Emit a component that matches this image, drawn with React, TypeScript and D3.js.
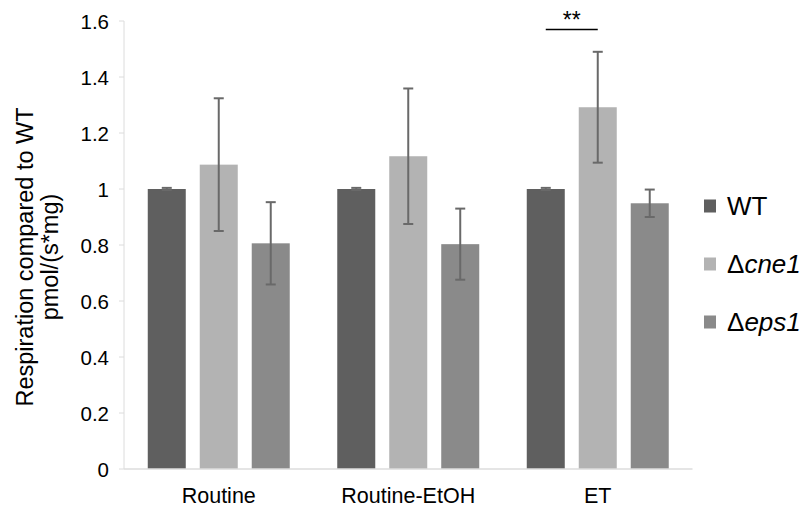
import React from "react";
import * as d3 from "d3";

const categories = ["Routine", "Routine-EtOH", "ET"];
const seriesKeys = ["WT", "cne1", "eps1"];
const seriesLabels = [
  { prefix: "", name: "WT", italic: false },
  { prefix: "Δ", name: "cne1", italic: true },
  { prefix: "Δ", name: "eps1", italic: true },
];
const seriesColors = ["#5f5f5f", "#b3b3b3", "#8a8a8a"];
const valuesWT = [1.0, 1.0, 1.0];
const valuesCne1 = [1.087, 1.117, 1.292];
const valuesEps1 = [0.806, 0.803, 0.949];
const errWT = [0.004, 0.004, 0.004];
const errCne1 = [0.237, 0.242, 0.198];
const errEps1 = [0.147, 0.127, 0.049];
const yTicks = [0, 0.2, 0.4, 0.6, 0.8, 1, 1.2, 1.4, 1.6];
const significance = { category: "ET", from: "WT", to: "cne1", label: "**", value: 1.57 };

const values = [valuesWT, valuesCne1, valuesEps1];
const errors = [errWT, errCne1, errEps1];

const W = 807;
const H = 518;
const FONT = "'Liberation Sans', Arial, Helvetica, sans-serif";

export default function App() {
  const y = d3.scaleLinear().domain([0, 1.6]).range([469, 21]);
  const x0 = d3.scaleBand<string>().domain(categories).range([124, 692.5]).paddingInner(0).paddingOuter(0);
  const x1 = d3
    .scaleBand<string>()
    .domain(seriesKeys)
    .range([0, x0.bandwidth()])
    .paddingInner(0.269)
    .paddingOuter(0.457);
  const bw = x1.bandwidth();
  const axisColor = "#dcdcdc";
  const errColor = "#696969";

  const sigX1 = (x0(significance.category) as number) + (x1(significance.from) as number) + bw / 2;
  const sigX2 = (x0(significance.category) as number) + (x1(significance.to) as number) + bw / 2;
  const sigY = y(significance.value);

  return (
    <svg width={W} height={H} style={{ position: "absolute", left: 0, top: 0, background: "#fff" }} fontFamily={FONT}>
      <rect x={0} y={0} width={W} height={H} fill="#fff" />
      {/* y axis */}
      <line x1={124} x2={124} y1={y(1.6)} y2={y(0)} stroke={axisColor} strokeWidth={1} />
      {yTicks.map((t) => (
        <g key={t}>
          <line x1={119} x2={124} y1={y(t)} y2={y(t)} stroke={axisColor} strokeWidth={1} />
          <text x={109} y={y(t)} textAnchor="end" dominantBaseline="central" fontSize={20.5} fill="#000">
            {d3.format("~g")(t)}
          </text>
        </g>
      ))}
      {/* bars */}
      {categories.map((c, ci) => (
        <g key={c} transform={`translate(${x0(c)},0)`}>
          {seriesKeys.map((s, si) => {
            const v = values[si][ci];
            const e = errors[si][ci];
            const bx = x1(s) as number;
            const cx = bx + bw / 2;
            return (
              <g key={s}>
                <rect x={bx} y={y(v)} width={bw} height={y(0) - y(v)} fill={seriesColors[si]} />
                <line x1={cx} x2={cx} y1={y(v + e)} y2={y(v - e)} stroke={errColor} strokeWidth={2} />
                <line x1={cx - 5} x2={cx + 5} y1={y(v + e)} y2={y(v + e)} stroke={errColor} strokeWidth={2} />
                <line x1={cx - 5} x2={cx + 5} y1={y(v - e)} y2={y(v - e)} stroke={errColor} strokeWidth={2} />
              </g>
            );
          })}
          <text x={x0.bandwidth() / 2} y={503} textAnchor="middle" fontSize={21.5} fill="#000">
            {c}
          </text>
        </g>
      ))}
      {/* x axis */}
      <line x1={124} x2={692.5} y1={y(0)} y2={y(0)} stroke={axisColor} strokeWidth={1.5} />
      {/* significance */}
      <line x1={sigX1} x2={sigX2} y1={sigY} y2={sigY} stroke="#000" strokeWidth={1.5} />
      <text x={(sigX1 + sigX2) / 2} y={sigY - 1} textAnchor="middle" fontSize={23} fill="#000">
        {significance.label}
      </text>
      {/* legend */}
      {seriesLabels.map((l, i) => (
        <g key={l.name} transform={`translate(704,${206 + i * 58})`}>
          <rect x={0} y={-6.5} width={12} height={13} fill={seriesColors[i]} />
          <text x={23} y={0} dominantBaseline="central" fontSize={26} fill="#000">
            {l.prefix}
            <tspan fontStyle={l.italic ? "italic" : "normal"}>{l.name}</tspan>
          </text>
        </g>
      ))}
      {/* y title */}
      <g transform="translate(0,257) rotate(-90)">
        <text x={0} y={33} textAnchor="middle" fontSize={23.5} fill="#000">
          Respiration compared to WT
        </text>
        <text x={0} y={58} textAnchor="middle" fontSize={23.5} fill="#000">
          pmol/(s*mg)
        </text>
      </g>
    </svg>
  );
}
